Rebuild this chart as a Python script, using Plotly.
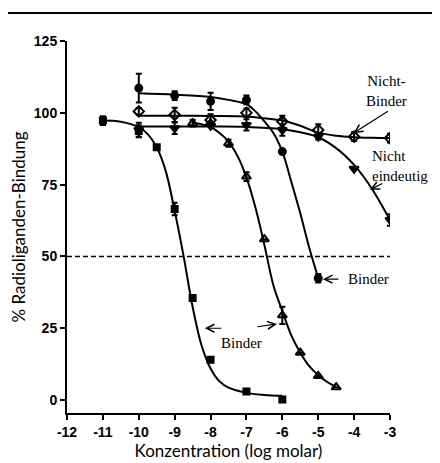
import plotly.graph_objects as go

# ---- data ----
# filled squares (Binder, potent)
sq_x = [-11, -10, -9.5, -9, -8.5, -8, -7, -6]
sq_y = [97.3, 93.7, 88.0, 66.5, 35.5, 14.0, 3.0, 0.2]
sq_e = [1.5, 2.0, 0, 2.2, 0, 0, 0, 0]
sq_cx = [-11, -10.5, -10, -9.75, -9.5, -9.25, -9, -8.75, -8.5, -8.25, -8, -7.75, -7.5, -7, -6.5, -6]
sq_cy = [97.3, 96.9, 95.0, 92.6, 88.0, 79.8, 65.9, 50.0, 32.5, 19.0, 11.0, 6.5, 4.3, 2.5, 1.8, 1.5]

# open triangles (Binder, middle)
tr_x = [-8.5, -8, -7.5, -7, -6.5, -6, -5.5, -5, -4.5]
tr_y = [96.4, 96.4, 89.4, 77.8, 56.0, 29.5, 16.5, 8.4, 4.5]
tr_e = [1.2, 0, 1.2, 1.5, 0, 3.0, 0, 0, 0]
tr_cx = [-8.5, -8.25, -8, -7.75, -7.5, -7.25, -7, -6.75, -6.5, -6.25, -6, -5.75, -5.5, -5.25, -5, -4.75, -4.5]
tr_cy = [96.6, 96.0, 95.0, 93.0, 90.0, 85.0, 77.5, 67.0, 54.0, 40.0, 31.0, 22.5, 16.5, 11.8, 8.7, 6.3, 4.6]

# filled circles (Binder, weak)
ci_x = [-10, -9, -8, -7, -6, -5]
ci_y = [108.6, 106.0, 104.0, 104.5, 86.5, 42.4]
ci_e = [5.0, 1.5, 3.0, 1.5, 0, 1.5]
ci_cx = [-10, -9, -8, -7.5, -7, -6.75, -6.5, -6.25, -6, -5.75, -5.5, -5.25, -5]
ci_cy = [106.8, 106.3, 105.5, 104.5, 103.0, 100.5, 97.0, 93.0, 86.5, 76.0, 65.0, 53.0, 42.5]

# open diamonds (Nicht-Binder)
di_x = [-10, -9, -8, -7, -6, -5, -4, -3]
di_y = [100.5, 99.3, 97.5, 100.0, 97.0, 94.0, 91.7, 91.2]
di_e = [1.2, 2.5, 2.0, 1.5, 2.0, 2.0, 1.5, 1.5]
di_cx = [-10, -9, -8, -7, -6.5, -6, -5.5, -5, -4.5, -4, -3.5, -3]
di_cy = [99.0, 99.0, 98.9, 98.7, 98.1, 97.3, 95.5, 93.1, 92.0, 91.5, 91.3, 91.2]

# filled inverted triangles (Nicht eindeutig)
it_x = [-10, -9, -8, -7, -6, -5, -4, -3]
it_y = [94.0, 94.6, 95.5, 95.8, 94.0, 91.7, 80.5, 62.7]
it_e = [2.5, 2.0, 0, 2.0, 2.0, 1.0, 0, 2.0]
it_cx = [-10, -9, -8, -7, -6, -5.5, -5, -4.5, -4, -3.75, -3.5, -3.25, -3]
it_cy = [95.2, 95.2, 95.2, 95.1, 94.3, 93.2, 91.5, 87.7, 81.9, 78.0, 73.5, 68.3, 62.7]

x_ticks = [-12, -11, -10, -9, -8, -7, -6, -5, -4, -3]
y_ticks = [0, 25, 50, 75, 100, 125]

BLACK = "#000000"
fig = go.Figure()

def add_series(cx, cy, x, y, e, symbol, size):
    fig.add_trace(go.Scatter(x=cx, y=cy, mode="lines", line=dict(color=BLACK, width=2, shape="spline"),
                             hoverinfo="skip", showlegend=False))
    fig.add_trace(go.Scatter(x=x, y=y, mode="markers",
                             marker=dict(symbol=symbol, size=size, color=BLACK,
                                         line=dict(color=BLACK, width=2)),
                             error_y=dict(type="data", array=e, visible=True, color=BLACK,
                                          thickness=2, width=3),
                             showlegend=False))

add_series(sq_cx, sq_cy, sq_x, sq_y, sq_e, "square", 6)
add_series(tr_cx, tr_cy, tr_x, tr_y, tr_e, "triangle-up-open", 8)
add_series(ci_cx, ci_cy, ci_x, ci_y, ci_e, "circle", 7)
add_series(di_cx, di_cy, di_x, di_y, di_e, "diamond-open", 8)
add_series(it_cx, it_cy, it_x, it_y, it_e, "triangle-down", 8)

# dashed 50% line
fig.add_shape(type="line", xref="paper", yref="y", x0=0, x1=1, y0=50, y1=50,
              line=dict(color=BLACK, width=1.5, dash="5px,3px"))
# top border line
fig.add_shape(type="line", xref="paper", yref="paper", x0=-0.19, x1=1.16, y0=1.075, y1=1.075,
              line=dict(color=BLACK, width=2))

serif = "Liberation Serif, Times New Roman, serif"
fig.add_annotation(x=-3.1, y=107.7, text="Nicht-<br>Binder", showarrow=False,
                   font=dict(family=serif, size=15, color=BLACK), align="center")
fig.add_annotation(x=-3.55, y=81.5, text="Nicht<br>eindeutig", showarrow=False, xanchor="left",
                   font=dict(family=serif, size=15, color=BLACK), align="left")
fig.add_annotation(x=-4.22, y=42, text="Binder", showarrow=False, xanchor="left",
                   font=dict(family=serif, size=15, color=BLACK))
fig.add_annotation(x=-7.13, y=20, text="Binder", showarrow=False,
                   font=dict(family=serif, size=15, color=BLACK))

arrows = [(-4.02, 92.9, 36, -23), (-3.56, 73.2, 14, -7), (-4.87, 42.1, 17, 0),
          (-8.16, 25.0, 18, 0), (-6.15, 26.5, -21, 3)]
for hx, hy, ax, ay in arrows:
    fig.add_annotation(x=hx, y=hy, ax=ax, ay=ay, text="", showarrow=True,
                       arrowhead=5, arrowsize=1.3, arrowwidth=1.2, arrowcolor=BLACK)

tickfont = dict(family="Liberation Sans, Arial", size=14, color=BLACK, weight="bold")
titlefont = dict(family="Lato, Open Sans, sans-serif", size=17, color=BLACK)
fig.update_layout(
    width=432, height=455, margin=dict(l=59, r=50, t=33, b=50, autoexpand=False),
    paper_bgcolor="white", plot_bgcolor="white", showlegend=False,
    xaxis=dict(range=[-12, -3], tickvals=x_ticks, ticktext=[str(v) for v in x_ticks],
               showgrid=False, zeroline=False, showline=True, linewidth=2, linecolor=BLACK,
               ticks="outside", ticklen=5, tickwidth=2, tickcolor=BLACK, tickfont=tickfont,
               automargin=False,
               title=dict(text="Konzentration (log molar)", font=titlefont, standoff=2)),
    yaxis=dict(range=[-4.5, 125], tickvals=y_ticks, ticktext=[str(v) for v in y_ticks],
               showgrid=False, zeroline=False, showline=True, linewidth=2, linecolor=BLACK,
               ticks="outside", ticklen=5, tickwidth=2, tickcolor=BLACK, tickfont=tickfont,
               automargin=False,
               title=dict(text="% Radioliganden-Bindung", font=titlefont, standoff=12)),
)

fig.write_html("out.html")
